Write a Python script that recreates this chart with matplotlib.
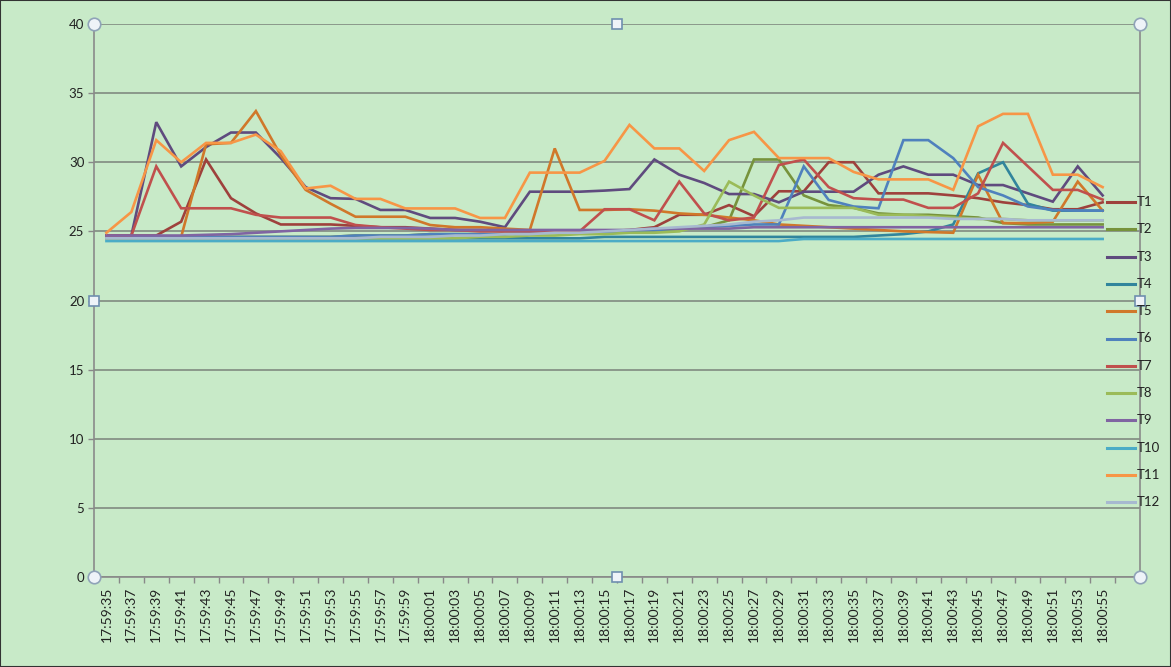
import numpy as np
import matplotlib
matplotlib.use("Agg")
import matplotlib.pyplot as plt
from matplotlib.lines import Line2D
from matplotlib.patches import Rectangle

# ---------------- data ----------------
times = ["17:59:35", "17:59:37", "17:59:39", "17:59:41", "17:59:43", "17:59:45",
         "17:59:47", "17:59:49", "17:59:51", "17:59:53", "17:59:55", "17:59:57",
         "17:59:59", "18:00:01", "18:00:03", "18:00:05", "18:00:07", "18:00:09",
         "18:00:11", "18:00:13", "18:00:15", "18:00:17", "18:00:19", "18:00:21",
         "18:00:23", "18:00:25", "18:00:27", "18:00:29", "18:00:31", "18:00:33",
         "18:00:35", "18:00:37", "18:00:39", "18:00:41", "18:00:43", "18:00:45",
         "18:00:47", "18:00:49", "18:00:51", "18:00:53", "18:00:55", ""]

T1 = [24.7, 24.7, 24.7, 25.7, 30.2, 27.4, 26.3, 25.5, 25.5, 25.5, 25.4, 25.3, 25.3, 25.2,
      25.1, 25.1, 25.0, 25.0, 25.0, 25.0, 25.0, 25.1, 25.3, 26.2, 26.2, 26.9, 26.1, 27.9,
      27.9, 30.0, 30.0, 27.75, 27.75, 27.75, 27.6, 27.4, 27.1, 26.9, 26.6, 26.6, 27.1]
T2 = [24.6, 24.6, 24.6, 24.6, 24.6, 24.6, 24.6, 24.6, 24.6, 24.6, 24.7, 24.7, 24.7, 24.8,
      24.8, 24.8, 24.8, 24.9, 24.9, 24.9, 24.9, 25.0, 25.1, 25.2, 25.3, 25.8, 30.2, 30.2,
      27.6, 26.9, 26.7, 26.3, 26.2, 26.2, 26.1, 26.0, 25.6, 25.5, 25.5, 25.5, 25.5]
T3 = [24.7, 24.7, 32.9, 29.7, 31.1, 32.15, 32.15, 30.3, 28.2, 27.4, 27.35, 26.55, 26.55, 25.97,
      25.97, 25.7, 25.3, 27.87, 27.87, 27.87, 27.95, 28.06, 30.2, 29.1, 28.5, 27.7, 27.7, 27.1,
      27.87, 27.87, 27.87, 29.1, 29.7, 29.1, 29.1, 28.35, 28.35, 27.75, 27.15, 29.7, 27.6]
T4 = [24.5, 24.5, 24.5, 24.5, 24.5, 24.5, 24.5, 24.5, 24.5, 24.5, 24.5, 24.5, 24.5, 24.5,
      24.5, 24.5, 24.5, 24.5, 24.5, 24.5, 24.6, 24.6, 24.6, 24.6, 24.6, 24.6, 24.6, 24.6,
      24.6, 24.6, 24.6, 24.7, 24.8, 25.0, 25.5, 29.2, 30.0, 27.0, 26.5, 26.5, 26.5]
T5 = [24.6, 24.6, 24.6, 24.6, 31.3, 31.4, 33.7, 30.5, 28.0, 27.0, 26.06, 26.06, 26.06, 25.46,
      25.3, 25.3, 25.2, 25.1, 31.0, 26.55, 26.55, 26.6, 26.5, 26.3, 26.2, 26.0, 25.8, 25.5,
      25.4, 25.3, 25.2, 25.1, 25.0, 24.95, 24.9, 29.1, 25.6, 25.6, 25.7, 28.6, 26.5]
T6 = [24.6, 24.6, 24.6, 24.6, 24.6, 24.6, 24.6, 24.6, 24.6, 24.6, 24.7, 24.7, 24.7, 24.8,
      24.8, 24.8, 24.8, 24.9, 24.9, 24.9, 24.9, 25.0, 25.1, 25.2, 25.3, 25.4, 25.5, 25.5,
      29.7, 27.27, 26.8, 26.67, 31.6, 31.6, 30.3, 28.2, 27.6, 26.8, 26.55, 26.5, 26.5]
T7 = [24.7, 24.7, 29.7, 26.67, 26.67, 26.67, 26.2, 26.0, 26.0, 26.0, 25.46, 25.3, 25.2, 25.1,
      25.1, 25.0, 25.0, 25.0, 25.0, 25.0, 26.6, 26.6, 25.8, 28.6, 26.3, 25.8, 26.0, 29.8,
      30.2, 28.2, 27.4, 27.3, 27.3, 26.7, 26.7, 27.75, 31.4, 29.7, 28.0, 28.0, 27.3]
T8 = [24.5, 24.5, 24.5, 24.5, 24.5, 24.5, 24.5, 24.5, 24.5, 24.5, 24.5, 24.5, 24.5, 24.5,
      24.5, 24.6, 24.6, 24.7, 24.7, 24.8, 24.8, 24.9, 24.9, 25.0, 25.5, 28.6, 27.6, 26.7,
      26.7, 26.7, 26.7, 26.2, 26.2, 26.1, 26.0, 25.9, 25.9, 25.8, 25.8, 25.8, 25.8]
T9 = [24.7, 24.7, 24.7, 24.7, 24.75, 24.8, 24.9, 25.0, 25.1, 25.2, 25.25, 25.25, 25.25, 25.2,
      25.1, 25.1, 25.1, 25.1, 25.1, 25.1, 25.1, 25.1, 25.2, 25.2, 25.2, 25.2, 25.3, 25.3,
      25.3, 25.3, 25.3, 25.3, 25.3, 25.3, 25.3, 25.3, 25.3, 25.3, 25.3, 25.3, 25.3]
T10 = [24.3, 24.3, 24.3, 24.3, 24.3, 24.3, 24.3, 24.3, 24.3, 24.3, 24.3, 24.3, 24.3, 24.3,
       24.3, 24.3, 24.3, 24.3, 24.3, 24.3, 24.3, 24.3, 24.3, 24.3, 24.3, 24.3, 24.3, 24.3,
       24.45, 24.45, 24.45, 24.45, 24.45, 24.45, 24.45, 24.45, 24.45, 24.45, 24.45, 24.45, 24.45]
T11 = [24.9, 26.4, 31.6, 30.0, 31.4, 31.4, 32.0, 30.8, 28.1, 28.3, 27.35, 27.35, 26.66, 26.66,
       26.66, 25.97, 25.97, 29.25, 29.25, 29.25, 30.1, 32.7, 31.0, 31.0, 29.37, 31.6, 32.2, 30.3,
       30.3, 30.3, 29.3, 28.76, 28.76, 28.76, 28.0, 32.6, 33.5, 33.5, 29.1, 29.1, 28.2]
T12 = [24.5, 24.5, 24.5, 24.5, 24.5, 24.5, 24.5, 24.5, 24.5, 24.5, 24.5, 24.6, 24.6, 24.6,
       24.7, 24.7, 24.8, 24.8, 24.9, 24.9, 25.0, 25.1, 25.2, 25.3, 25.4, 25.5, 25.7, 25.8,
       26.0, 26.0, 26.0, 26.0, 26.0, 26.0, 25.9, 25.9, 25.9, 25.8, 25.8, 25.8, 25.8]

series_names = ["T1", "T2", "T3", "T4", "T5", "T6", "T7", "T8", "T9", "T10", "T11", "T12"]
series_values = [T1, T2, T3, T4, T5, T6, T7, T8, T9, T10, T11, T12]
colors = ["#9E413C", "#77933C", "#5F4B7E", "#31859C", "#D0782A", "#4F81BD",
          "#C0504D", "#9BBB59", "#8064A2", "#4BACC6", "#F79646", "#A7B9D0"]

# ---------------- figure ----------------
W, H = 1171, 667
bg = "#C8EAC8"
plt.rcParams["font.family"] = ["Lato", "DejaVu Sans"]
fig = plt.figure(figsize=(W / 100, H / 100), dpi=100, facecolor=bg)

x0, x1, ytop, ybot = 94, 1140, 24, 577
ax = fig.add_axes([x0 / W, 1 - ybot / H, (x1 - x0) / W, (ybot - ytop) / H])
ax.set_facecolor(bg)

xs = np.arange(len(times))
for name, vals, c in zip(series_names, series_values, colors):
    ax.plot(xs[:len(vals)], vals, color=c, lw=1.9, solid_joinstyle="miter", label=name, zorder=3)

ax.set_xlim(-0.5, len(times) - 0.5)
ax.set_ylim(0, 40)
ax.set_yticks(np.arange(0, 41, 5))
ax.yaxis.grid(True, color="#808A80", lw=1.2)
ax.set_axisbelow(True)
ax.tick_params(axis="y", length=4, width=1, color="#888888", labelsize=9.5,
               labelcolor="#222222", pad=3)

ax.set_xticks(xs)
ax.set_xticklabels(times, rotation=90, fontsize=10, color="#222222", va="top")
ax.tick_params(axis="x", which="major", length=0, pad=7)
ax.set_xticks(np.arange(-0.5, len(times), 1.0), minor=True)
ax.tick_params(axis="x", which="minor", length=4, width=1, color="#888888")

for side in ["left", "right", "bottom"]:
    ax.spines[side].set_color("#8A8A8A")
    ax.spines[side].set_linewidth(1.2)
ax.spines["top"].set_visible(False)

# selection handles of the plot area
for (hx, hy) in [(0, 1), (1, 1), (0, 0), (1, 0)]:
    ax.plot([hx], [hy], marker="o", ms=9, mfc="#EEF3F8", mec="#8FA3B8", mew=1.2,
            transform=ax.transAxes, clip_on=False, zorder=6)
for (hx, hy) in [(0.5, 1), (0, 0.5), (1, 0.5), (0.5, 0)]:
    ax.plot([hx], [hy], marker="s", ms=6.5, mfc="#EEF3F8", mec="#6F8FAF", mew=1.2,
            transform=ax.transAxes, clip_on=False, zorder=6)

# legend (Excel-style, drawn at right, overlapping plot edge)
leg_y0, leg_dy = 202, 27.3
for i, (name, c) in enumerate(zip(series_names, colors)):
    yy = 1 - (leg_y0 + i * leg_dy) / H
    fig.add_artist(Line2D([1107 / W, 1135 / W], [yy, yy], color=c, lw=2.2,
                          transform=fig.transFigure, zorder=7))
    fig.text(1137 / W, yy, name, fontsize=9.5, color="#222222", va="center", ha="left",
             zorder=7)

# outer border
fig.add_artist(Rectangle((0, 0), 1, 1, transform=fig.transFigure, fill=False,
                         edgecolor="#333333", lw=1.5))

fig.savefig("out.png", dpi=100, facecolor=bg)
